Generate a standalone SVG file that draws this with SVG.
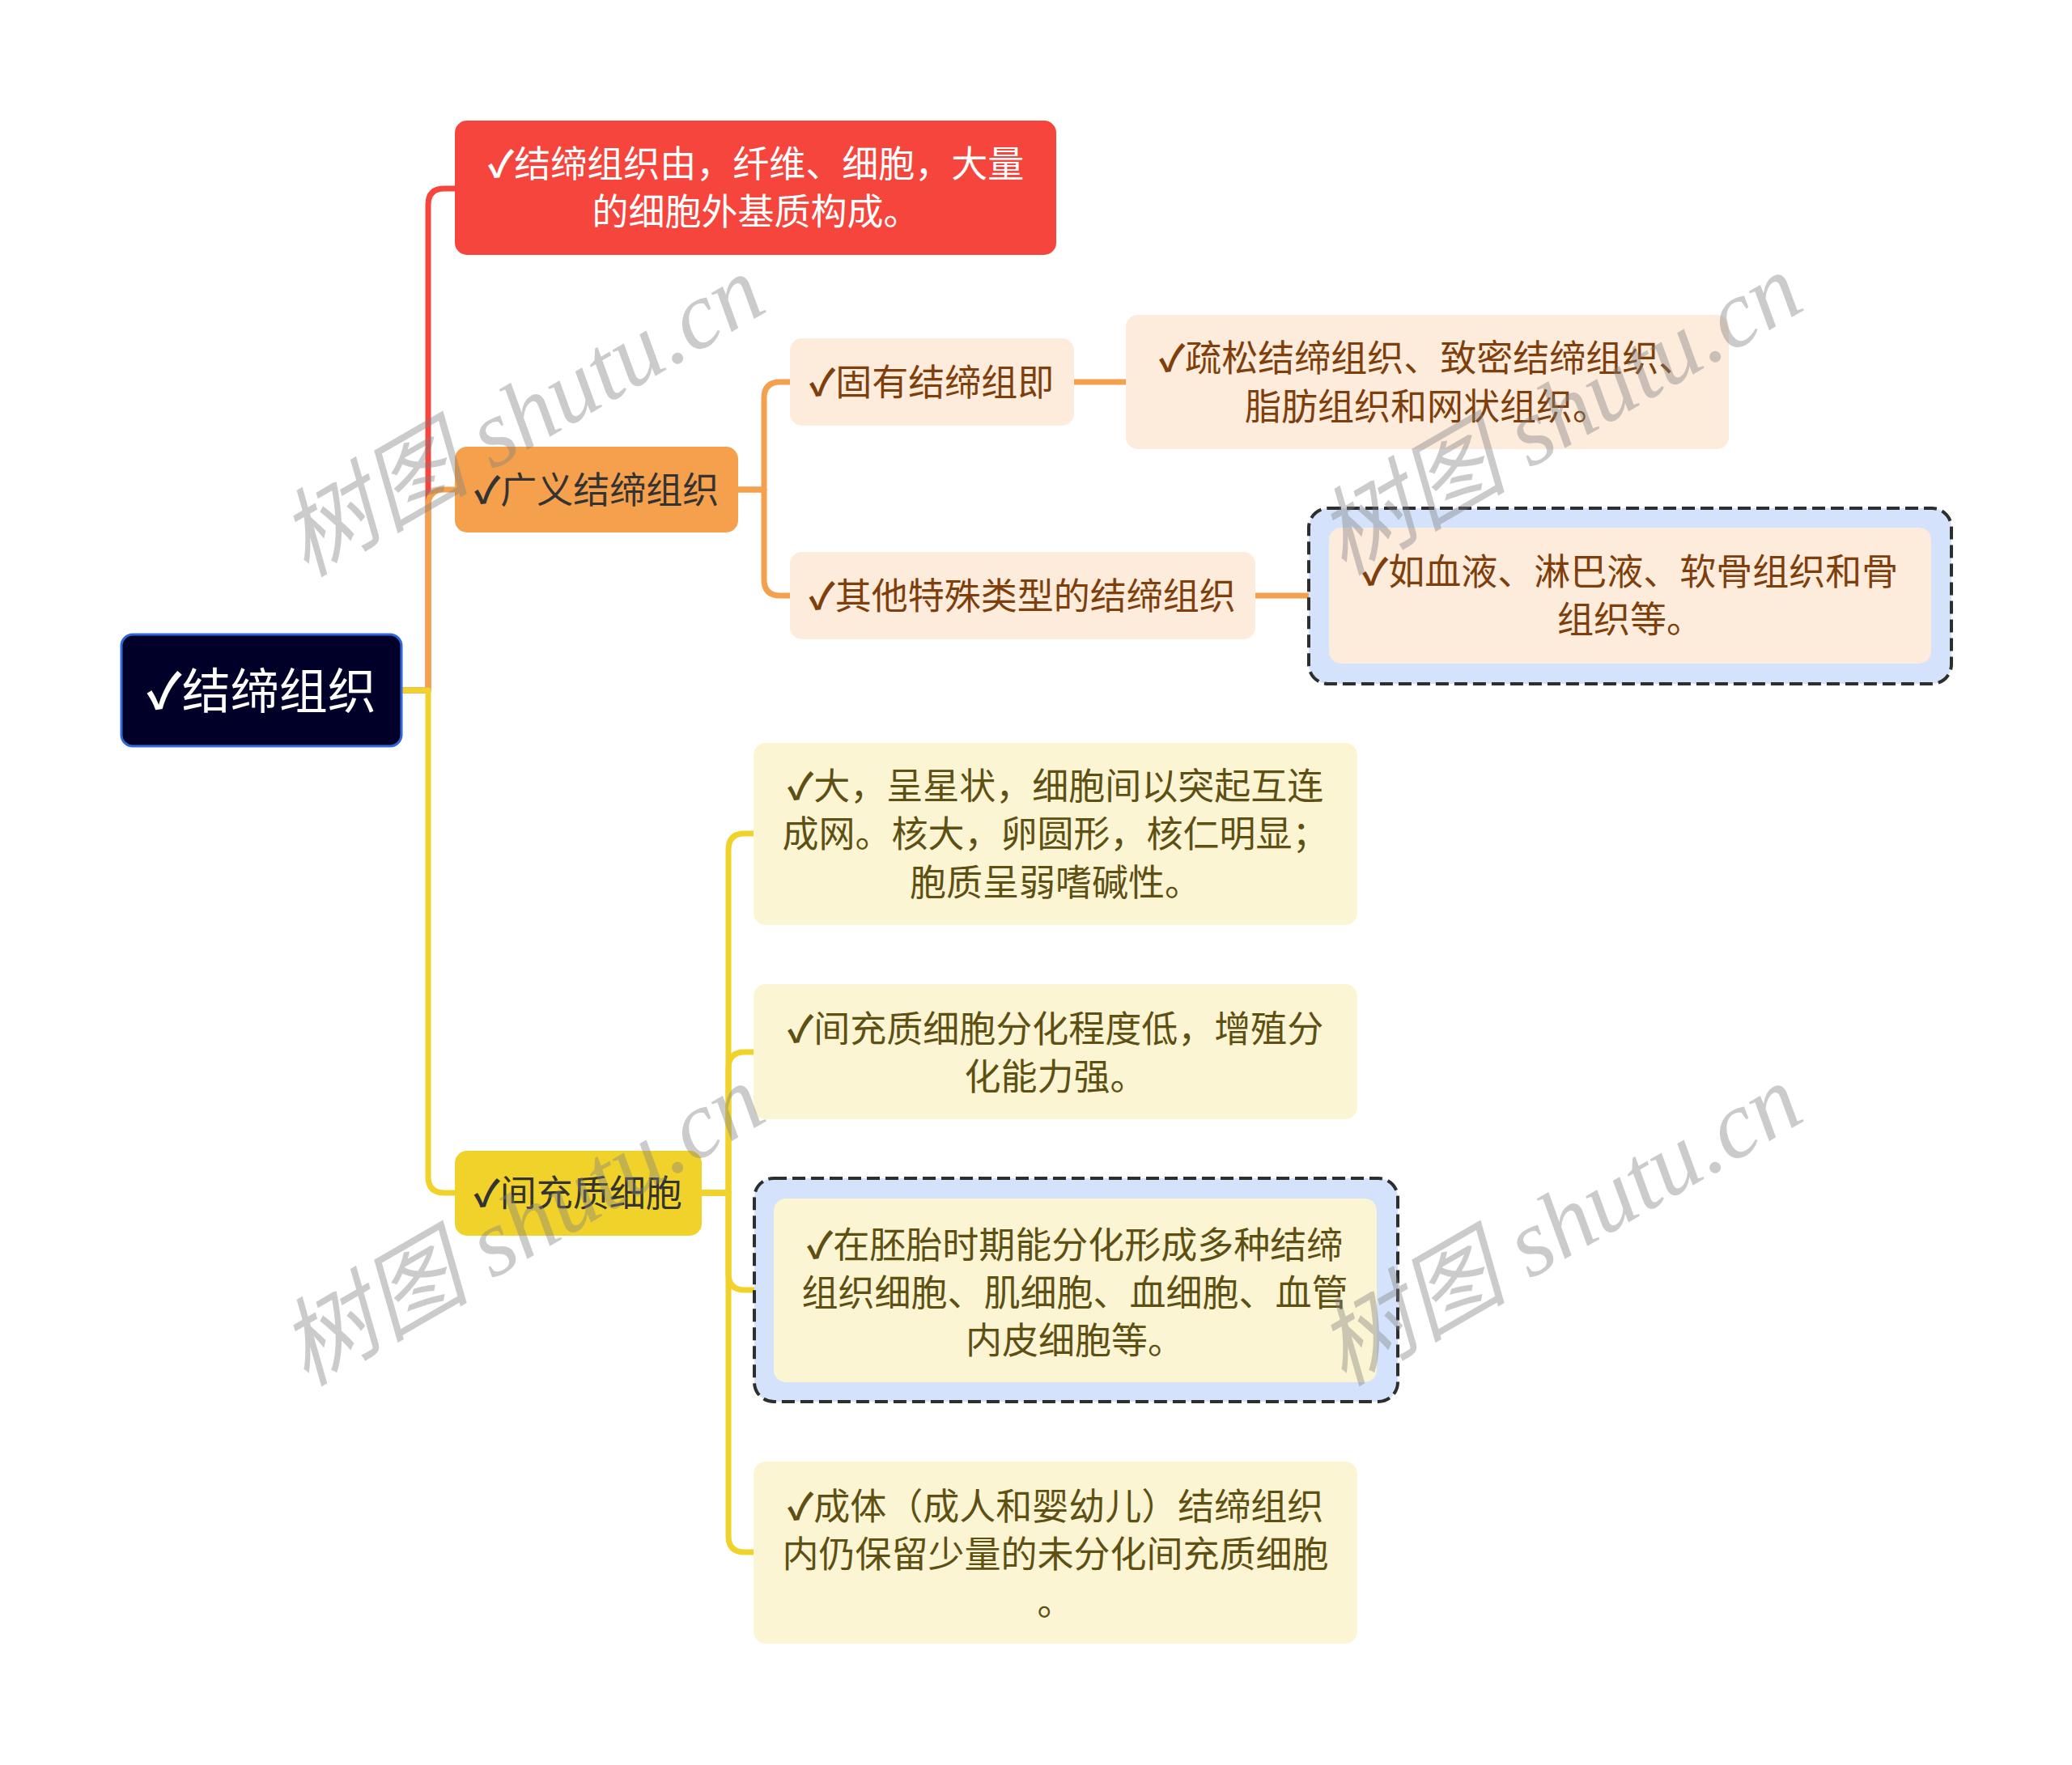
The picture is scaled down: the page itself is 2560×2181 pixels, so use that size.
<svg xmlns="http://www.w3.org/2000/svg" width="2560" height="2181" viewBox="0 0 2560 2181">
<style>
text{font-family:"Noto Sans CJK SC","Liberation Sans",sans-serif;font-size:45px;text-anchor:middle;dominant-baseline:central}
.ck{font-weight:bold}
.conn{fill:none;stroke-width:7;stroke-linejoin:round;stroke-linecap:butt}
.red{stroke:#F5453D}
.org{stroke:#F4A04C}
.yel{stroke:#F0D22B}
.tw{fill:#FFFFFF}
.tg{fill:#333333}
.tb{fill:#7E3F0C}
.ty{fill:#5E5013}
.peach{fill:#FDEBDB}
.cream{fill:#FCF5D3}
.dash{fill:#D4E3FB;stroke:#2E2E2E;stroke-width:4;stroke-dasharray:16 7}
.wm{font-family:"Liberation Serif","Noto Sans CJK SC",serif;font-style:italic;font-size:118px;fill:#808080;opacity:0.4}
</style>
<rect width="2560" height="2181" fill="#FFFFFF"/>
<g id="connectors">
<path class="conn red" d="M496,853 H529 V253 Q529,233 549,233 H563"/>
<path class="conn org" d="M496,853 H529 V625 Q529,605 549,605 H563"/>
<path class="conn yel" d="M496,853 H529 V1454 Q529,1474 549,1474 H563"/>
<path class="conn org" d="M911,605 H944 V492 Q944,472 964,472 H977"/>
<path class="conn org" d="M911,605 H944 V716 Q944,736 964,736 H977"/>
<path class="conn org" d="M1326,472 H1392"/>
<path class="conn org" d="M1550,736 H1643"/>
<path class="conn yel" d="M866,1474 H900 V1050 Q900,1030 920,1030 H932"/>
<path class="conn yel" d="M866,1474 H900 V1320 Q900,1300 920,1300 H932"/>
<path class="conn yel" d="M866,1474 H900 V1574 Q900,1594 920,1594 H958"/>
<path class="conn yel" d="M866,1474 H900 V1898 Q900,1918 920,1918 H932"/>
</g>
<g id="root">
<rect x="150" y="784" width="346" height="138" rx="14" fill="#000029" stroke="#2F68D8" stroke-width="3"/>
<text class="tw" x="323" y="849" style="font-size:60px"><tspan class="ck">✓</tspan>结缔组织</text>
</g>
<g id="n-red">
<rect x="562" y="149" width="743" height="166" rx="15" fill="#F5453D"/>
<text class="tw" x="934" y="199"><tspan class="ck">✓</tspan>结缔组织由，纤维、细胞，大量</text>
<text class="tw" x="934" y="258">的细胞外基质构成。</text>
</g>
<g id="n-orange">
<rect x="562" y="552" width="350" height="106" rx="15" fill="#F4A04C"/>
<text class="tg" x="737" y="602"><tspan class="ck">✓</tspan>广义结缔组织</text>
</g>
<g id="n-guyou">
<rect x="976" y="418" width="351" height="108" rx="15" class="peach"/>
<text class="tb" x="1151" y="469"><tspan class="ck">✓</tspan>固有结缔组即</text>
</g>
<g id="n-shusong">
<rect x="1391" y="389" width="745" height="166" rx="15" class="peach"/>
<text class="tb" x="1763" y="439"><tspan class="ck">✓</tspan>疏松结缔组织、致密结缔组织、</text>
<text class="tb" x="1763" y="499">脂肪组织和网状组织。</text>
</g>
<g id="n-qita">
<rect x="976" y="682" width="575" height="108" rx="15" class="peach"/>
<text class="tb" x="1263" y="733"><tspan class="ck">✓</tspan>其他特殊类型的结缔组织</text>
</g>
<g id="n-xueye">
<rect x="1617" y="628" width="794" height="217" rx="24" class="dash"/>
<rect x="1642" y="652" width="744" height="168" rx="15" class="peach"/>
<text class="tb" x="2014" y="703"><tspan class="ck">✓</tspan>如血液、淋巴液、软骨组织和骨</text>
<text class="tb" x="2014" y="762">组织等。</text>
</g>
<g id="n-yellow">
<rect x="562" y="1422" width="305" height="105" rx="15" fill="#F0D22B"/>
<text class="tg" x="714" y="1471"><tspan class="ck">✓</tspan>间充质细胞</text>
</g>
<g id="n-y1">
<rect x="931" y="918" width="746" height="225" rx="15" class="cream"/>
<text class="ty" x="1304" y="968"><tspan class="ck">✓</tspan>大，呈星状，细胞间以突起互连</text>
<text class="ty" x="1304" y="1027">成网。核大，卵圆形，核仁明显；</text>
<text class="ty" x="1304" y="1087">胞质呈弱嗜碱性。</text>
</g>
<g id="n-y2">
<rect x="931" y="1216" width="746" height="167" rx="15" class="cream"/>
<text class="ty" x="1304" y="1268"><tspan class="ck">✓</tspan>间充质细胞分化程度低，增殖分</text>
<text class="ty" x="1304" y="1327">化能力强。</text>
</g>
<g id="n-y3">
<rect x="932" y="1456" width="795" height="276" rx="24" class="dash"/>
<rect x="956" y="1481" width="745" height="227" rx="15" class="cream"/>
<text class="ty" x="1328" y="1535"><tspan class="ck">✓</tspan>在胚胎时期能分化形成多种结缔</text>
<text class="ty" x="1328" y="1594">组织细胞、肌细胞、血细胞、血管</text>
<text class="ty" x="1328" y="1653">内皮细胞等。</text>
</g>
<g id="n-y4">
<rect x="931" y="1806" width="746" height="225" rx="15" class="cream"/>
<text class="ty" x="1304" y="1858"><tspan class="ck">✓</tspan>成体（成人和婴幼儿）结缔组织</text>
<text class="ty" x="1304" y="1917">内仍保留少量的未分化间充质细胞</text>
<text class="ty" x="1304" y="1976">。</text>
</g>
<g id="watermarks">
<text class="wm" transform="translate(645,514) rotate(-30)" x="0" y="0">树图 shutu.cn</text>
<text class="wm" transform="translate(1927,512) rotate(-30)" x="0" y="0">树图 shutu.cn</text>
<text class="wm" transform="translate(645,1514) rotate(-30)" x="0" y="0">树图 shutu.cn</text>
<text class="wm" transform="translate(1927,1514) rotate(-30)" x="0" y="0">树图 shutu.cn</text>
</g>
</svg>
